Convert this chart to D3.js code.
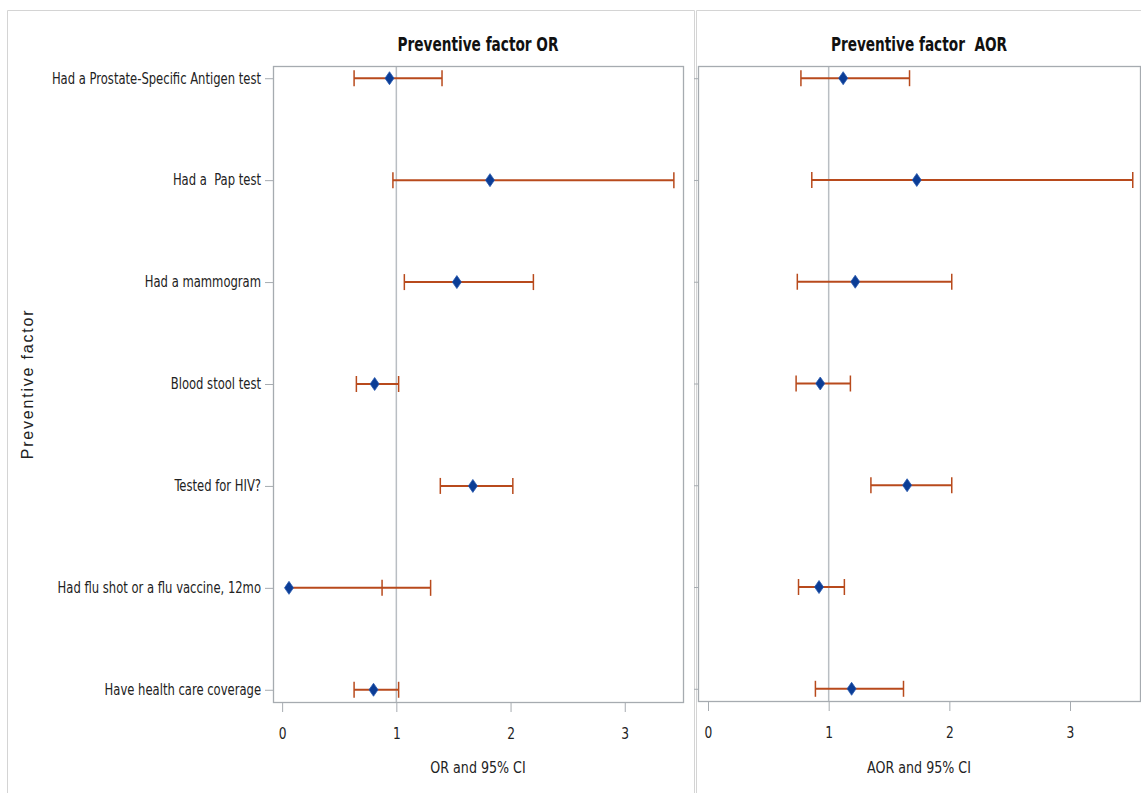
<!DOCTYPE html>
<html>
<head>
    <title>Preventive factor OR / AOR</title>
    <script src="https://d3js.org/d3.v7.min.js"></script>
    <style>
        body { margin: 0; background: #fff; }
        svg text { fill: #222; }
        .cat { white-space: pre; }
    </style>
</head>
<body>
    <div id="chart"></div>

    <script>
        const categories = [
            "Had a Prostate-Specific Antigen test",
            "Had a  Pap test",
            "Had a mammogram",
            "Blood stool test",
            "Tested for HIV?",
            "Had flu shot or a flu vaccine, 12mo",
            "Have health care coverage"
        ];

        // crude odds ratios and 95% CI
        const orEst  = [0.94, 1.82, 1.53, 0.81, 1.67, 0.06, 0.80];
        const orLow  = [0.63, 0.97, 1.07, 0.65, 1.385, 0.875, 0.63];
        const orHigh = [1.40, 3.43, 2.20, 1.02, 2.02, 1.30, 1.02];

        // adjusted odds ratios and 95% CI
        const aorEst  = [1.12, 1.73, 1.22, 0.93, 1.65, 0.92, 1.19];
        const aorLow  = [0.77, 0.86, 0.74, 0.73, 1.35, 0.75, 0.89];
        const aorHigh = [1.67, 3.52, 2.02, 1.18, 2.02, 1.13, 1.62];

        const xTicks = [0, 1, 2, 3];

        const width = 1141;
        const height = 793;
        const narrow = "'DejaVu Sans Condensed', 'Liberation Sans', sans-serif";

        const svg = d3.select("#chart")
            .append("svg")
            .attr("width", width)
            .attr("height", height);

        // outer cell borders
        svg.append("path")
            .attr("d", "M7.5,800 V10.5 H694.5 V800")
            .attr("fill", "none")
            .attr("stroke", "#d4d4d4");
        svg.append("path")
            .attr("d", "M696.5,800 V10.5 H1150")
            .attr("fill", "none")
            .attr("stroke", "#d4d4d4");

        const panels = [
            { title: "Preventive factor OR", xlabel: "OR and 95% CI",
              est: orEst, low: orLow, high: orHigh,
              x0: 273, x1: 683, y0: 66, y1: 702, domain: [-0.08, 3.51], labels: true },
            { title: "Preventive factor  AOR", xlabel: "AOR and 95% CI",
              est: aorEst, low: aorLow, high: aorHigh,
              x0: 698, x1: 1140, y0: 66, y1: 701, domain: [-0.083, 3.58], labels: false }
        ];

        const diamond = "M0,-6.5 L4.5,0 L0,6.5 L-4.5,0 Z";

        panels.forEach(p => {
            const x = d3.scaleLinear().domain(p.domain).range([p.x0, p.x1]);
            const y = d3.scalePoint().domain(categories).range([p.y0, p.y1]).padding(0.12);
            const g = svg.append("g");

            // reference line at 1
            g.append("line")
                .attr("x1", x(1)).attr("x2", x(1))
                .attr("y1", p.y0).attr("y2", p.y1)
                .attr("stroke", "#b9bec3")
                .attr("stroke-width", 1.5);

            // frame
            g.append("rect")
                .attr("x", p.x0 + 0.5).attr("y", p.y0 + 0.5)
                .attr("width", p.x1 - p.x0).attr("height", p.y1 - p.y0)
                .attr("fill", "none")
                .attr("stroke", "#a6abb0")
                .attr("stroke-width", 1.3);

            // x axis
            const xAxis = g.append("g")
                .attr("transform", `translate(0,${p.y1 + 1})`)
                .call(d3.axisBottom(x).tickValues(xTicks).tickFormat(d3.format("d")).tickSize(9).tickPadding(16));
            xAxis.select(".domain").remove();
            xAxis.selectAll(".tick line").attr("stroke", "#a6abb0");
            xAxis.selectAll(".tick text")
                .attr("font-size", 16).attr("font-family", narrow)
                .attr("transform", "scale(0.85,1)");

            // y axis
            const sx = 0.86;
            const yAxis = g.append("g")
                .attr("transform", `translate(${p.x0},0)`)
                .call(d3.axisLeft(y).tickSize(p.labels ? 8 : 4).tickPadding(4)
                    .tickFormat(p.labels ? d => d : () => ""));
            yAxis.select(".domain").remove();
            yAxis.selectAll(".tick line").attr("stroke", "#a6abb0");
            yAxis.selectAll(".tick text")
                .attr("font-size", 15).attr("font-family", narrow)
                .attr("class", "cat")
                .attr("x", -12 / sx)
                .attr("transform", `scale(${sx},1)`);

            // titles
            g.append("text")
                .attr("transform", `translate(${(p.x0 + p.x1) / 2},51) scale(0.8,1)`)
                .attr("text-anchor", "middle")
                .attr("font-size", 19).attr("font-weight", "bold")
                .attr("font-family", narrow)
                .style("white-space", "pre")
                .style("fill", "#111")
                .text(p.title);

            g.append("text")
                .attr("transform", `translate(${(p.x0 + p.x1) / 2},773) scale(0.88,1)`)
                .attr("text-anchor", "middle")
                .attr("font-size", 16)
                .attr("font-family", narrow)
                .text(p.xlabel);

            const rows = categories.map((c, i) => ({ c, est: p.est[i], low: p.low[i], high: p.high[i] }));

            // error bars
            const bars = g.selectAll(".bar").data(rows).enter().append("g").attr("class", "bar");
            bars.append("line")
                .attr("x1", d => x(Math.min(d.low, d.est)))
                .attr("x2", d => x(Math.max(d.high, d.est)))
                .attr("y1", d => y(d.c)).attr("y2", d => y(d.c))
                .attr("stroke", "#b84a1c").attr("stroke-width", 2);
            ["low", "high"].forEach(k => {
                bars.append("line")
                    .attr("x1", d => x(d[k])).attr("x2", d => x(d[k]))
                    .attr("y1", d => y(d.c) - 8).attr("y2", d => y(d.c) + 8)
                    .attr("stroke", "#b84a1c").attr("stroke-width", 1.5);
            });

            // point estimates
            g.selectAll(".pt").data(rows).enter().append("path")
                .attr("class", "pt")
                .attr("d", diamond)
                .attr("transform", d => `translate(${x(d.est)},${y(d.c)})`)
                .attr("fill", "#0b3d96")
                .attr("stroke", "#2a5bb0")
                .attr("stroke-width", 0.8);
        });

        // shared y axis title
        svg.append("text")
            .attr("transform", "translate(33,384) rotate(-90)")
            .attr("text-anchor", "middle")
            .attr("font-size", 16)
            .attr("font-family", "'Liberation Sans', Arial, sans-serif")
            .attr("letter-spacing", 1.8)
            .text("Preventive factor");
    </script>
</body>
</html>
